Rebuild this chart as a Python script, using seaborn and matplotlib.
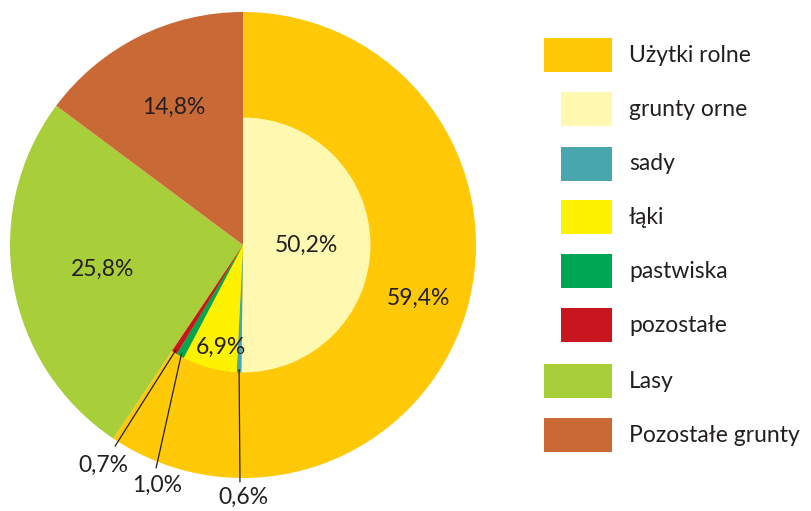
import numpy as np
import matplotlib
matplotlib.use("Agg")
import matplotlib.pyplot as plt
import seaborn as sns
from matplotlib.patches import Rectangle

# Data (percent of total area)
outer_labels = ["Użytki rolne", "Lasy", "Pozostałe grunty"]
outer_values = [59.4, 25.8, 14.8]
outer_colors = ["#FFC907", "#A8CE3A", "#C96A36"]

inner_labels = ["grunty orne", "sady", "łąki", "pastwiska", "pozostałe"]
inner_values = [50.2, 0.6, 6.9, 1.0, 0.7]
inner_colors = ["#FFF8B0", "#48A6AE", "#FFF200", "#00A651", "#C8161E"]

legend_labels = ["Użytki rolne", "grunty orne", "sady", "łąki", "pastwiska",
                 "pozostałe", "Lasy", "Pozostałe grunty"]
legend_colors = ["#FFC907", "#FFF8B0", "#48A6AE", "#FFF200", "#00A651",
                 "#C8161E", "#A8CE3A", "#C96A36"]
legend_indent = [0, 1, 1, 1, 1, 1, 0, 0]

sns.set_theme(style="white")
plt.rcParams['font.family'] = ['Lato', 'DejaVu Sans']

fig = plt.figure(figsize=(8.12, 5.11), dpi=100)
W, H = 812, 511
cx, cy, R = 243, 245, 233
ax = fig.add_axes([(cx - R) / W, (H - cy - R) / H, 2 * R / W, 2 * R / H])

fmt = lambda v: f"{v:.1f}%".replace(".", ",")
r_in = 0.547

# outer pie (full radius)
ax.pie(outer_values, radius=1, colors=outer_colors, startangle=90,
       counterclock=False, wedgeprops=dict(linewidth=0))
# inner pie only over the agricultural part
rest = 100 - sum(inner_values)
ax.pie(inner_values + [rest], radius=r_in, colors=inner_colors + ["none"],
       startangle=90, counterclock=False, wedgeprops=dict(linewidth=0))
ax.set_xlim(-1, 1)
ax.set_ylim(-1, 1)
ax.set_aspect("equal")
ax.axis("off")


def mid_point(values, i, r):
    cum = sum(values[:i]) + values[i] / 2
    th = np.deg2rad(cum / 100 * 360)
    return r * np.sin(th), r * np.cos(th)


fs = 16.5
tc = "#231F20"
# outer labels
for i, rr in zip(range(3), [0.785, 0.61, 0.66]):
    x, y = mid_point(outer_values, i, rr)
    ax.text(x, y, fmt(outer_values[i]), ha="center", va="center", fontsize=fs, color=tc)

# inner labels
x, y = mid_point(inner_values, 0, 0.27)
ax.text(x, y, fmt(inner_values[0]), ha="center", va="center", fontsize=fs, color=tc)
ax.text(-0.094, -0.438, fmt(inner_values[2]), ha="center", va="center", fontsize=fs, color=tc)

# small slices with leader lines: (index, text pos, line end)
callouts = [(4, (-0.60, -0.944), (-0.549, -0.863)),
            (3, (-0.369, -1.03), (-0.373, -0.957)),
            (1, (0.0, -1.082), (-0.013, -1.017))]
for i, tpos, lend in callouts:
    sx, sy = mid_point(inner_values, i, 0.535)
    ax.plot([sx, lend[0]], [sy, lend[1]], color=tc, lw=0.9, clip_on=False)
    ax.text(tpos[0], tpos[1], fmt(inner_values[i]), ha="center", va="center",
            fontsize=fs, color=tc, clip_on=False)

# legend drawn manually in pixel space
lax = fig.add_axes([0, 0, 1, 1])
lax.set_xlim(0, W)
lax.set_ylim(H, 0)
lax.axis("off")
row_y = [55, 109, 164, 217, 271, 325, 381, 435]
for lab, col, ind, yy in zip(legend_labels, legend_colors, legend_indent, row_y):
    x0 = 561 if ind else 544
    lax.add_patch(Rectangle((x0, yy - 17), 612 - x0, 34, facecolor=col, edgecolor="none"))
    lax.text(629, yy, lab, ha="left", va="center", fontsize=fs, color=tc)

fig.savefig("out.png", dpi=100)
